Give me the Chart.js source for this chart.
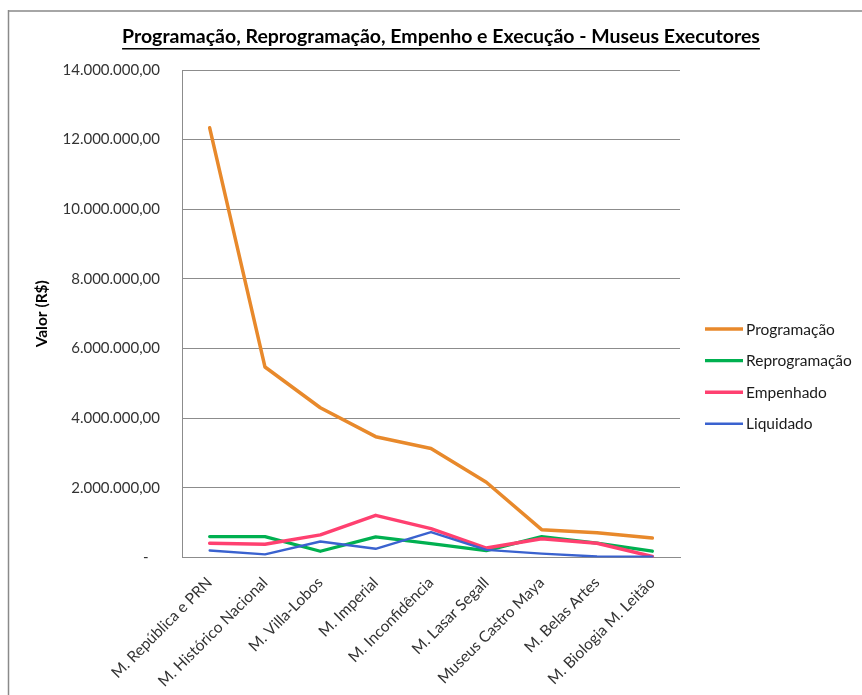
<!DOCTYPE html>
<html>
<head>
<meta charset="utf-8">
<script src="https://cdn.jsdelivr.net/npm/chart.js@4"></script>
<style>
  html, body { margin: 0; padding: 0; background: #fff; }
  #wrap { position: relative; width: 862px; height: 695px; }
</style>
</head>
<body>
<div id="wrap"><canvas id="chart" width="862" height="695"></canvas></div>
<script>
const categories = [
  "M. República e PRN",
  "M. Histórico Nacional",
  "M. Villa-Lobos",
  "M. Imperial",
  "M. Inconfidência",
  "M. Lasar Segall",
  "Museus Castro Maya",
  "M. Belas Artes",
  "M. Biologia M. Leitão",
];

const seriesNames = ["Programação", "Reprogramação", "Empenhado", "Liquidado"];

const programacao = [12340000, 5470000, 4300000, 3470000, 3130000, 2160000, 800000, 710000, 560000];
const reprogramacao = [600000, 600000, 180000, 590000, 400000, 200000, 600000, 410000, 180000];
const empenhado = [410000, 380000, 650000, 1210000, 830000, 270000, 540000, 410000, 30000];
const liquidado = [200000, 90000, 460000, 250000, 730000, 220000, 110000, 30000, 20000];

const yTicks = [0, 2000000, 4000000, 6000000, 8000000, 10000000, 12000000, 14000000];

const chartTitle = "Programação, Reprogramação, Empenho e Execução - Museus Executores";

const FONT = "Lato";

// 12000000 -> "12.000.000,00", 0 -> "-"
const formatBRL = (v) => {
  if (v === 0) return "-   ";
  const int = Math.round(v).toString().replace(/\B(?=(\d{3})+(?!\d))/g, ".");
  return int + ",00";
};

// frame of the chart object (only top and left edges are inside the picture)
const framePlugin = {
  id: "frame",
  beforeDraw(chart) {
    const ctx = chart.ctx;
    ctx.save();
    ctx.strokeStyle = "#a6a6a6";
    ctx.lineWidth = 2;
    ctx.beginPath();
    ctx.moveTo(8, 11);
    ctx.lineTo(chart.width, 11);
    ctx.stroke();
    ctx.strokeStyle = "#8a8a8a";
    ctx.lineWidth = 1.5;
    ctx.beginPath();
    ctx.moveTo(8.5, 10);
    ctx.lineTo(8.5, chart.height);
    ctx.stroke();
    ctx.restore();
  },
};

// bold underlined title, centred on the whole chart object like Excel does
const titlePlugin = {
  id: "excelTitle",
  afterDraw(chart) {
    const ctx = chart.ctx;
    const size = 19.5;
    const cx = 441, cy = 37;
    ctx.save();
    ctx.font = `bold ${size}px ${FONT}`;
    ctx.fillStyle = "#000";
    ctx.textAlign = "center";
    ctx.textBaseline = "middle";
    ctx.fillText(chartTitle, cx, cy);
    const w = ctx.measureText(chartTitle).width;
    ctx.strokeStyle = "#000";
    ctx.lineWidth = 1.4;
    ctx.beginPath();
    ctx.moveTo(cx - w / 2, cy + size * 0.6);
    ctx.lineTo(cx + w / 2, cy + size * 0.6);
    ctx.stroke();
    ctx.restore();
  },
};

// legend drawn like Excel: long line sample, text to the right
const legendPlugin = {
  id: "sideLegend",
  afterDraw(chart) {
    const ctx = chart.ctx;
    const x0 = 705, lineLen = 38, y0 = 329, step = 31.6;
    ctx.save();
    ctx.font = `15.5px ${FONT}`;
    ctx.textBaseline = "middle";
    chart.data.datasets.forEach((ds, i) => {
      const y = y0 + i * step;
      ctx.strokeStyle = ds.borderColor;
      ctx.lineWidth = ds.borderWidth;
      ctx.beginPath();
      ctx.moveTo(x0, y);
      ctx.lineTo(x0 + lineLen, y);
      ctx.stroke();
      ctx.fillStyle = "#1a1a1a";
      ctx.fillText(ds.label, x0 + lineLen + 3, y + 0.5);
    });
    ctx.restore();
  },
};

const ctx = document.getElementById("chart").getContext("2d");

new Chart(ctx, {
  type: "line",
  data: {
    labels: categories,
    datasets: [
      { label: seriesNames[0], data: programacao, borderColor: "#e8892b", borderWidth: 3.5, order: 4 },
      { label: seriesNames[1], data: reprogramacao, borderColor: "#00b050", borderWidth: 3.3, order: 3 },
      { label: seriesNames[2], data: empenhado, borderColor: "#ff4070", borderWidth: 3.5, order: 2 },
      { label: seriesNames[3], data: liquidado, borderColor: "#3a62cf", borderWidth: 2.4, order: 1 },
    ],
  },
  options: {
    responsive: false,
    animation: false,
    devicePixelRatio: 1,
    layout: { padding: { left: 20, right: 182, top: 70, bottom: 0 } },
    elements: {
      point: { radius: 0 },
      line: { tension: 0, fill: false, borderCapStyle: "round", borderJoinStyle: "round" },
    },
    plugins: {
      legend: { display: false },
      tooltip: { enabled: false },
      title: { display: false },
    },
    scales: {
      x: {
        offset: true,
        grid: { display: false },
        border: { display: true, color: "#8c8c8c", width: 1 },
        ticks: {
          autoSkip: false,
          minRotation: 45,
          maxRotation: 45,
          color: "#333",
          font: { family: FONT, size: 15.5 },
          padding: 8,
        },
        afterFit: (scale) => { scale.height = 137.5; },
      },
      y: {
        min: 0,
        max: 14000000,
        afterBuildTicks: (scale) => { scale.ticks = yTicks.map((v) => ({ value: v })); },
        grid: { color: "#8c8c8c", lineWidth: 1, drawTicks: false },
        border: { display: true, color: "#8c8c8c", width: 1 },
        ticks: {
          color: "#333",
          font: { family: FONT, size: 15 },
          padding: 22,
          callback: (v) => formatBRL(v),
        },
        title: {
          display: true,
          text: "Valor (R$)",
          color: "#000",
          font: { family: FONT, size: 15.5, weight: "bold" },
          padding: { top: 13, bottom: 0 },
        },
        afterFit: (scale) => { scale.width = 162; },
      },
    },
  },
  plugins: [framePlugin, titlePlugin, legendPlugin],
});
</script>
</body>
</html>
